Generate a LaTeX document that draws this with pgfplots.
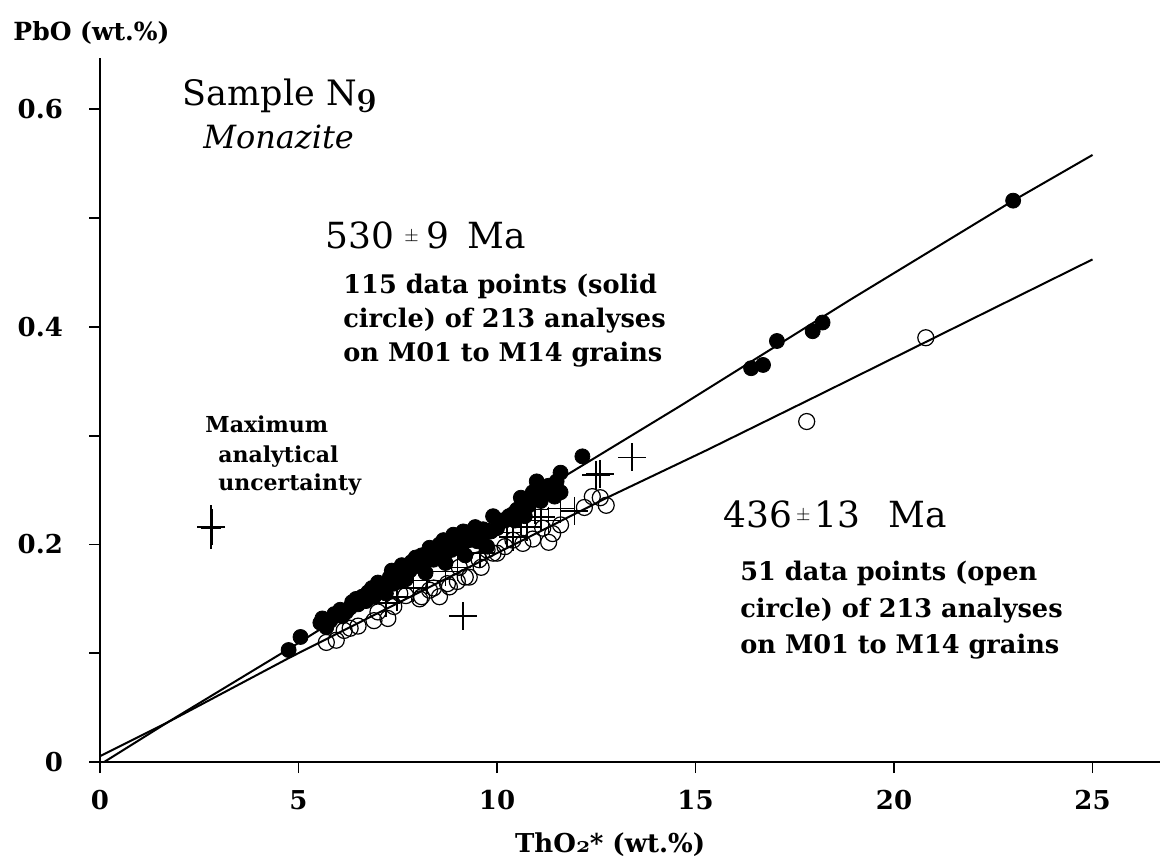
\documentclass[border=0pt]{standalone}
\usepackage{fontspec}
\setmainfont{DejaVu Serif}
\usepackage{pgfplots}
\pgfplotsset{compat=1.18}

\newcommand{\osn}[1]{{\usefont{OML}{cmm}{b}{it}#1}}
\newcommand{\pmsmall}{\raisebox{3.5pt}{\fontsize{9.5}{11}\selectfont$\pm$}}

\begin{document}
\begin{tikzpicture}
\begin{axis}[
  scale only axis, width=530pt, height=352pt,
  xmin=0, xmax=26.7, ymin=0, ymax=0.647,
  axis x line*=bottom, axis y line*=left,
  axis line style={-, line width=0.9pt},
  tick align=outside, major tick length=5.5pt,
  tick style={line width=0.9pt, black},
  xtick={0,5,...,25},
  ytick={0,0.2,0.4,0.6},
  extra y ticks={0.1,0.3,0.5}, extra y tick labels={},
  extra y tick style={grid=none},
  /pgf/number format/assume math mode=true,
  ticklabel style={font=\fontsize{13}{15}\selectfont\bfseries},
  yticklabel style={xshift=-9.5pt},
  xticklabel style={yshift=-5pt},
  clip=false]

% fitted lines (530 Ma above, 436 Ma below)
\addplot[black, line width=1pt] coordinates {
  (0,0.0055) (1.7,0.0365) (4.8,0.105) (11.76,0.264) (14.6,0.327)
  (18.9,0.425) (23,0.516) (25,0.558)};
\addplot[black, line width=1pt] coordinates {
  (0.1,0) (1.7,0.0365) (4.8,0.0965) (12.77,0.243) (15.3,0.287)
  (18.14,0.338) (21.9,0.406) (25,0.462)};

% open circles (436 Ma)
\addplot[only marks, mark=o, mark size=4pt, mark options={line width=0.6pt}] table {
x y
5.7 0.110
5.95 0.112
6.15 0.121
6.3 0.123
6.5 0.125
6.9 0.130
7.0 0.138
7.25 0.132
7.4 0.143
7.55 0.155
7.7 0.153
8.05 0.150
8.1 0.152
8.3 0.158
8.4 0.160
8.55 0.152
8.75 0.164
8.8 0.161
9.0 0.166
9.05 0.179
9.2 0.170
9.3 0.170
9.55 0.186
9.6 0.179
9.75 0.195
9.9 0.192
10.0 0.192
10.2 0.198
10.4 0.204
10.65 0.201
10.9 0.205
11.15 0.215
11.3 0.202
11.4 0.210
11.6 0.218
12.2 0.234
12.4 0.244
12.6 0.243
12.75 0.236
17.8 0.313
20.8 0.390
};

% excluded analyses
\addplot[only marks, mark=+, mark size=7pt, mark options={line width=0.8pt}] table {
x y
9.15 0.134
12.5 0.264
12.6 0.265
13.4 0.280
10.96 0.232
11.6 0.233
11.95 0.231
10.75 0.216
10.25 0.211
10.4 0.207
9.57 0.192
9.0 0.179
8.24 0.167
7.48 0.152
7.2 0.146
8.7 0.175
7.9 0.160
11.1 0.225
11.3 0.222
10.6 0.222
};

% solid circles (530 Ma)
\addplot[only marks, mark=*, mark size=3.75pt, black] table {
x y
4.75 0.103
5.05 0.115
5.55 0.128
5.6 0.132
5.7 0.124
5.8 0.130
5.9 0.136
6.05 0.140
6.1 0.134
6.2 0.138
6.3 0.142
6.35 0.147
6.45 0.150
6.5 0.145
6.6 0.152
6.7 0.148
6.75 0.156
6.85 0.160
6.9 0.152
7.0 0.165
7.05 0.157
7.1 0.160
7.2 0.155
7.25 0.165
7.3 0.170
7.35 0.176
7.4 0.164
7.5 0.172
7.55 0.166
7.6 0.181
7.7 0.168
7.7 0.178
7.8 0.176
7.85 0.184
7.95 0.188
8.05 0.180
8.1 0.190
8.15 0.185
8.2 0.174
8.3 0.197
8.35 0.190
8.4 0.186
8.5 0.194
8.55 0.200
8.6 0.192
8.65 0.204
8.7 0.183
8.75 0.198
8.85 0.195
8.9 0.209
9.0 0.200
9.05 0.205
9.1 0.196
9.15 0.212
9.2 0.190
9.3 0.204
9.35 0.212
9.45 0.216
9.5 0.203
9.6 0.206
9.65 0.214
9.75 0.198
9.85 0.212
9.9 0.226
10.0 0.215
10.1 0.222
10.2 0.222
10.3 0.226
10.4 0.228
10.45 0.222
10.5 0.232
10.6 0.243
10.7 0.226
10.8 0.236
10.9 0.248
11.0 0.258
11.1 0.240
11.2 0.248
11.3 0.254
11.45 0.244
11.5 0.258
11.6 0.266
11.6 0.248
12.15 0.281
16.4 0.362
16.7 0.365
17.05 0.387
17.95 0.396
18.2 0.404
23.0 0.516
};

% maximum analytical uncertainty
\addplot[draw=none, mark=none,
  error bars/.cd, x dir=both, x explicit, y dir=both, y explicit,
  error bar style={draw=black, line width=1.5pt},
  error mark options={draw=black, line width=1.2pt, mark size=2pt}]
  coordinates {(2.8,0.216) +- (0.25,0.0165)};

\coordinate (BL) at (axis cs:-2.52,-0.0901);
\coordinate (TR) at (axis cs:26.75,0.7004);

\begin{scope}[every node/.style={inner sep=0pt, anchor=base west}]
\node[font=\fontsize{12.5}{15}\selectfont\bfseries] at (axis cs:-2.19,0.6636) {PbO (wt.\%)};
\node[anchor=base, font=\fontsize{13}{15}\selectfont\bfseries] at (axis cs:12.85,-0.0827) {ThO\osn{2}* (wt.\%)};

\node[font=\fontsize{17.5}{20}\selectfont] at (axis cs:2.07,0.6039) {Sample N\osn{9}};
\node[font=\fontsize{16}{18}\selectfont\itshape] at (axis cs:2.59,0.5643) {Monazite};

\node[font=\fontsize{18}{22}\selectfont] at (axis cs:5.67,0.4724) {530\hspace{5pt}\pmsmall\hspace{4pt}9\hspace{9pt}Ma};
\node[font=\fontsize{18}{22}\selectfont] at (axis cs:15.69,0.216) {436\hspace{2pt}\pmsmall\hspace{2pt}13\hspace{14pt}Ma};

\node[font=\fontsize{12.8}{15}\selectfont\bfseries] at (axis cs:6.12,0.431) {115 data points (solid};
\node[font=\fontsize{12.8}{15}\selectfont\bfseries] at (axis cs:6.12,0.3998) {circle) of 213 analyses};
\node[font=\fontsize{12.8}{15}\selectfont\bfseries] at (axis cs:6.12,0.3686) {on M01 to M14 grains};
\node[font=\fontsize{12.8}{15}\selectfont\bfseries] at (axis cs:16.12,0.1673) {51 data points (open};
\node[font=\fontsize{12.8}{15}\selectfont\bfseries] at (axis cs:16.12,0.1333) {circle) of 213 analyses};
\node[font=\fontsize{12.8}{15}\selectfont\bfseries] at (axis cs:16.12,0.1002) {on M01 to M14 grains};

\node[font=\fontsize{11}{13}\selectfont\bfseries] at (axis cs:2.645,0.3033) {Maximum};
\node[font=\fontsize{11}{13}\selectfont\bfseries] at (axis cs:2.97,0.2757) {analytical};
\node[font=\fontsize{11}{13}\selectfont\bfseries] at (axis cs:2.97,0.25) {uncertainty};
\end{scope}
\end{axis}
\pgfresetboundingbox
\path (BL) rectangle (TR);
\end{tikzpicture}
\end{document}
